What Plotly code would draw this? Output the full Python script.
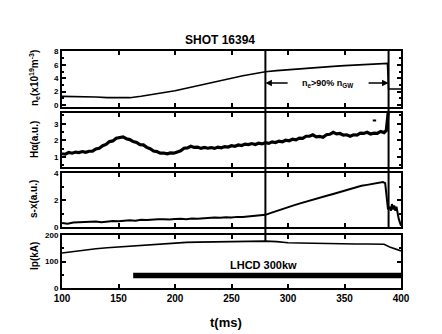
import plotly.graph_objects as go
from plotly.subplots import make_subplots

# ---- time axis ticks (ms) ----
t_ticks = [100, 150, 200, 250, 300, 350, 400]

# ---- line-averaged density n_e (x10^19 m^-3) ----
ne_t = [100, 110, 120, 130, 140, 150, 160, 170, 180, 190, 200, 210, 220, 230, 240,
        250, 260, 270, 280, 290, 300, 310, 320, 330, 340, 350, 360, 370, 380, 388,
        389, 400]
ne_v = [1.30, 1.30, 1.25, 1.20, 1.10, 1.05, 1.10, 1.30, 1.55, 1.85, 2.15, 2.50, 2.90, 3.30, 3.70,
        4.05, 4.40, 4.70, 5.00, 5.15, 5.30, 5.45, 5.55, 5.65, 5.80, 5.90, 6.00, 6.10, 6.20, 6.25,
        2.40, 2.40]

# ---- H-alpha emission (a.u.) ----
ha_t = [100, 103, 106, 109, 112, 115, 118, 121, 124, 127, 130, 133, 136, 139, 142, 145,
        148, 151, 154, 157, 160, 163, 166, 169, 172, 175, 178, 181, 184, 187, 190, 193,
        196, 199, 202, 205, 208, 211, 214, 217, 220, 223, 226, 229, 232, 235, 238, 241,
        244, 247, 250, 253, 256, 259, 262, 265, 268, 271, 274, 277, 280, 283, 286, 289,
        292, 295, 298, 301, 304, 307, 310, 313, 316, 319, 322, 325, 328, 331, 334, 337,
        340, 343, 346, 349, 352, 355, 358, 361, 364, 367, 370, 373, 376, 379, 382, 385,
        387, 389]
ha_v = [1.20, 1.17, 1.27, 1.23, 1.30, 1.27, 1.33, 1.28, 1.35, 1.36, 1.49, 1.53, 1.68, 1.76, 1.93, 1.97,
        2.13, 2.15, 2.21, 2.10, 2.05, 1.93, 1.88, 1.75, 1.73, 1.58, 1.50, 1.36, 1.33, 1.23, 1.24, 1.19,
        1.25, 1.23, 1.32, 1.38, 1.53, 1.55, 1.65, 1.58, 1.60, 1.52, 1.58, 1.53, 1.57, 1.52, 1.60, 1.56,
        1.63, 1.60, 1.68, 1.65, 1.73, 1.69, 1.78, 1.75, 1.81, 1.75, 1.83, 1.79, 1.86, 1.82, 1.91, 1.87,
        1.96, 1.92, 2.01, 1.98, 2.07, 2.03, 2.14, 2.12, 2.25, 2.25, 2.34, 2.22, 2.24, 2.19, 2.34, 2.37,
        2.49, 2.39, 2.42, 2.32, 2.34, 2.25, 2.34, 2.32, 2.44, 2.42, 2.49, 2.39, 2.44, 2.42, 2.54, 2.47,
        2.60, 3.90]
ha_mark_t = [375, 378]
ha_mark_v = [3.20, 3.20]

# ---- soft X-ray emission (a.u.) ----
sx_t = [100, 105, 110, 115, 120, 125, 130, 135, 140, 145, 150, 155, 160, 165, 170, 175,
        180, 185, 190, 195, 200, 205, 210, 215, 220, 225, 230, 235, 240, 245, 250, 255,
        260, 265, 270, 275, 280, 285, 290, 295, 300, 305, 310, 315, 320, 325, 330, 335,
        340, 345, 350, 355, 360, 365, 370, 375, 380, 384, 386, 387.5, 388.5, 390, 391,
        392, 393, 394, 395, 396, 397, 398, 400]
sx_v = [0.30, 0.25, 0.33, 0.35, 0.32, 0.38, 0.40, 0.36, 0.42, 0.45, 0.43, 0.48, 0.50, 0.47, 0.53, 0.52,
        0.52, 0.57, 0.58, 0.55, 0.60, 0.62, 0.58, 0.63, 0.62, 0.66, 0.65, 0.70, 0.68, 0.72, 0.70, 0.75,
        0.74, 0.78, 0.80, 0.82, 0.90, 1.05, 1.20, 1.33, 1.48, 1.60, 1.73, 1.86, 1.98, 2.10, 2.22, 2.33,
        2.45, 2.58, 2.70, 2.83, 2.95, 3.05, 3.12, 3.18, 3.24, 3.33, 3.25, 2.00, 1.30, 1.50, 1.20,
        1.70, 1.30, 1.60, 1.20, 1.50, 1.10, 0.60, 0.10]

# ---- plasma current Ip (kA) ----
ip_t = [100, 110, 120, 130, 140, 150, 160, 170, 180, 190, 200, 210, 220, 230, 240, 250,
        260, 270, 280, 290, 300, 310, 320, 330, 340, 350, 360, 370, 380, 385, 390, 395, 400]
ip_v = [132, 138, 143, 148, 152, 155, 158, 162, 165, 168, 170, 172, 173, 174, 175, 175,
        176, 177, 177, 175, 171, 170, 169, 168, 166, 166, 166, 166, 166, 165, 155, 148, 140]

# ---- LHCD pulse window ----
lhcd_t = [163, 400]
lhcd_level = [47, 47]

# ---- event markers (ms) ----
t_start_hd = 280
t_disrupt = 389

W, H = 442, 334
ML, MR, MT, MB = 62, 41, 51, 46
PH = H - MT - MB  # plot height in px


def ydom(top_px, bot_px):
    return [(H - MB - bot_px) / PH, (H - MB - top_px) / PH]


def py(px):
    return (H - MB - px) / PH


def px_x(px):
    return (px - ML) / (W - ML - MR)


fig = make_subplots(rows=4, cols=1, shared_xaxes=True)

black = "#000000"
fig.add_trace(go.Scatter(x=ne_t, y=ne_v, mode="lines",
                         line=dict(color=black, width=1.6)), row=1, col=1)
fig.add_trace(go.Scatter(x=ha_t, y=ha_v, mode="lines",
                         line=dict(color=black, width=3.2)), row=2, col=1)
fig.add_trace(go.Scatter(x=ha_mark_t, y=ha_mark_v, mode="lines",
                         line=dict(color=black, width=2)), row=2, col=1)
fig.add_trace(go.Scatter(x=sx_t, y=sx_v, mode="lines",
                         line=dict(color=black, width=2)), row=3, col=1)
fig.add_trace(go.Scatter(x=ip_t, y=ip_v, mode="lines",
                         line=dict(color=black, width=1.6)), row=4, col=1)
fig.add_trace(go.Scatter(x=lhcd_t, y=lhcd_level, mode="lines",
                         line=dict(color=black, width=5.5)), row=4, col=1)

font_family = "Liberation Sans, Arial, sans-serif"
tickfont = dict(family=font_family, size=8, color=black, weight="bold")

axis_common = dict(showline=True, linewidth=2, linecolor=black, mirror="allticks",
                   ticks="inside", ticklen=4, tickwidth=1.5, tickcolor=black,
                   showgrid=False, zeroline=False, tickfont=tickfont)

domains = [ydom(51, 107), ydom(113, 167), ydom(173, 227), ydom(235, 288)]
yranges = [[-0.3, 8.1], [0.4, 3.65], [0, 4], [0, 200]]
ytickvals = [[0, 2, 4, 6, 8], [1, 2, 3], [0, 2, 4], [0, 100, 200]]
minor_dt = [1, 0.5, 1, 50]

for i in range(4):
    n = "" if i == 0 else str(i + 1)
    fig.layout["yaxis" + n].update(domain=domains[i], range=yranges[i],
                                  tickvals=ytickvals[i],
                                  minor=dict(ticks="inside", ticklen=2, dtick=minor_dt[i],
                                             tickcolor=black),
                                  **axis_common)
    fig.layout["xaxis" + n].update(range=[100, 400], tickvals=t_ticks,
                                  showticklabels=(i == 3), **axis_common)

fig.layout.xaxis4.update(tickfont=dict(family=font_family, size=10, color=black, weight="bold"))

# vertical event lines
fig.add_shape(type="line", xref="x", yref="paper", x0=t_start_hd, x1=t_start_hd,
              y0=py(241), y1=1.0, line=dict(color=black, width=2))
fig.add_shape(type="line", xref="x", yref="paper", x0=t_disrupt, x1=t_disrupt,
              y0=py(227), y1=1.0, line=dict(color=black, width=2))

# high-density window arrows
arrow_y = 3.3
fig.add_annotation(x=t_start_hd, y=arrow_y, ax=301, ay=arrow_y, xref="x", yref="y",
                   axref="x", ayref="y", showarrow=True, arrowhead=2, arrowsize=1,
                   arrowwidth=1.3, arrowcolor=black, text="")
fig.add_annotation(x=t_disrupt, y=arrow_y, ax=370, ay=arrow_y, xref="x", yref="y",
                   axref="x", ayref="y", showarrow=True, arrowhead=2, arrowsize=1,
                   arrowwidth=1.3, arrowcolor=black, text="")
fig.add_annotation(x=335, y=arrow_y, xref="x", yref="y", showarrow=False,
                   xanchor="center", yanchor="middle",
                   text="n<sub>e</sub>>90% n<sub>GW</sub>",
                   font=dict(family=font_family, size=9, color=black, weight="bold"))

fig.add_annotation(x=278, y=88, xref="x4", yref="y4", showarrow=False,
                   xanchor="center", yanchor="middle",
                   text="LHCD 300kw",
                   font=dict(family=font_family, size=11, color=black, weight="bold"))

# y-axis labels
ylabels = ["n<sub>e</sub>(x10<sup>19</sup>m<sup>-3</sup>)", "Hα(a.u.)", "s-x(a.u.)", "Ip(kA)"]
ylab_y = [78, 140, 199, 256]
for lab, yp in zip(ylabels, ylab_y):
    fig.add_annotation(x=px_x(34), y=py(yp), xref="paper", yref="paper",
                       xanchor="center", yanchor="middle",
                       showarrow=False, textangle=-90, text=lab,
                       font=dict(family=font_family, size=10, color=black, weight="bold"))

fig.add_annotation(x=px_x(220), y=py(40), xref="paper", yref="paper", showarrow=False,
                   xanchor="center", yanchor="middle",
                   text="SHOT 16394",
                   font=dict(family=font_family, size=12, color=black, weight="bold"))
fig.add_annotation(x=px_x(226), y=py(322), xref="paper", yref="paper", showarrow=False,
                   xanchor="center", yanchor="middle",
                   text="t(ms)",
                   font=dict(family=font_family, size=13, color=black, weight="bold"))

fig.update_layout(width=W, height=H, margin=dict(l=ML, r=MR, t=MT, b=MB),
                  paper_bgcolor="white", plot_bgcolor="white", showlegend=False)

fig.write_html("out.html")
